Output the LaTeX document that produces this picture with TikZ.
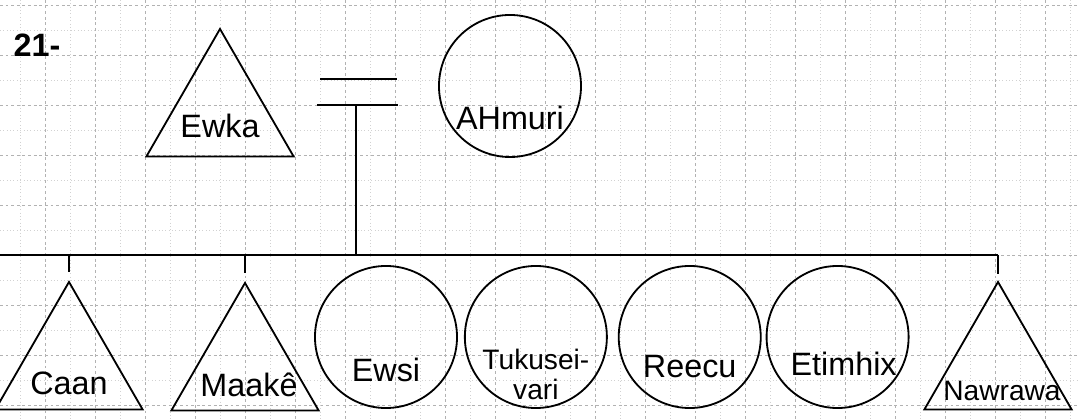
\documentclass[tikz,border=0pt]{standalone}
\usepackage{fontspec}
\setmainfont{Liberation Sans}
\usetikzlibrary{shapes.geometric}
\usetikzlibrary{positioning}
\tikzset{
  homem/.style={draw, line width=1.3pt, regular polygon, regular polygon sides=3, minimum size=4.25cm, inner sep=0pt},
  mulher/.style={draw, line width=1.3pt, circle, minimum size=3.55cm, inner sep=0pt},
  nome/.style={font=\fontsize{23}{25}\selectfont},
  nomep/.style={font=\fontsize{20}{21}\selectfont, align=center},
  linha/.style={line width=1.3pt},
  grade/.style={gray!60, line width=0.5pt, dash pattern=on 2pt off 2pt},
  subgrade/.style={gray!35, line width=0.4pt, dotted},
}

\begin{document}
\begin{tikzpicture}[x=0.025cm, y=-0.025cm]
  \useasboundingbox (0,0) rectangle (1080,419);
  % papel milimetrado
  \foreach \gx in {20,70,...,1070} \draw[subgrade] (\gx,0) -- (\gx,419);
  \foreach \gy in {30,80,...,380} \draw[subgrade] (0,\gy) -- (1080,\gy);
  \foreach \gx in {45,95,...,1045} \draw[grade] (\gx,0) -- (\gx,419);
  \foreach \gy in {5,55,...,405} \draw[grade] (0,\gy) -- (1080,\gy);

  \node[font=\fontsize{23}{25}\selectfont\bfseries] (num) at (37,45) {21-};

  % pais
  \node[homem, label={[nome, yshift=-0.3cm]center:Ewka}] (ewka) at (220,114) {};
  \node[mulher, label={[nome, yshift=-0.8cm]center:AHmuri}] (ahmuri) at (510,86) {};
  \coordinate (casal-a1) at (320,79);
  \coordinate (casal-a2) at (397,79);
  \coordinate (casal-b1) at (317,105);
  \coordinate (casal-b2) at (398,105);
  \coordinate (desce) at (356,105);
  \coordinate (irm-ini) at (0,255);

  % filhos
  \node[homem, label={[nome, yshift=-0.4cm]center:Caan}] (caan) at (69,367) {};
  \node[homem, label={[nome, yshift=-0.43cm, xshift=0.1cm]center:Maakê}] (maake) at (245,368) {};
  \node[mulher, label={[nome, yshift=-0.83cm]center:Ewsi}] (ewsi) at (386,337) {};
  \node[mulher, right=0.15cm of ewsi, label={[nomep, yshift=-0.93cm]center:Tukusei-\\vari}] (tukusei) {};
  \node[mulher, right=0.25cm of tukusei, label={[nome, yshift=-0.75cm]center:Reecu}] (reecu) {};
  \node[mulher, right=0.1cm of reecu, label={[nome, yshift=-0.68cm, xshift=0.15cm]center:Etimhix}] (etimhix) {};
  \node[homem, label={[nomep, yshift=-0.6cm, xshift=0.1cm]center:Nawrawa}] (nawrawa) at (998,367) {};

  \draw[line width=1.8pt] (casal-a1) -- (casal-a2);
  \draw[line width=1.8pt] (casal-b1) -- (casal-b2);
  \draw[linha] (desce) -- (desce |- irm-ini);
  \draw[linha] (irm-ini) -- (irm-ini -| nawrawa.corner 1);
  \draw[linha, shorten >=0.2cm] (caan.corner 1 |- irm-ini) -- (caan.corner 1);
  \draw[linha, shorten >=0.2cm] (maake.corner 1 |- irm-ini) -- (maake.corner 1);
  \draw[linha, shorten >=0.15cm] (nawrawa.corner 1 |- irm-ini) -- (nawrawa.corner 1);
\end{tikzpicture}
\end{document}
